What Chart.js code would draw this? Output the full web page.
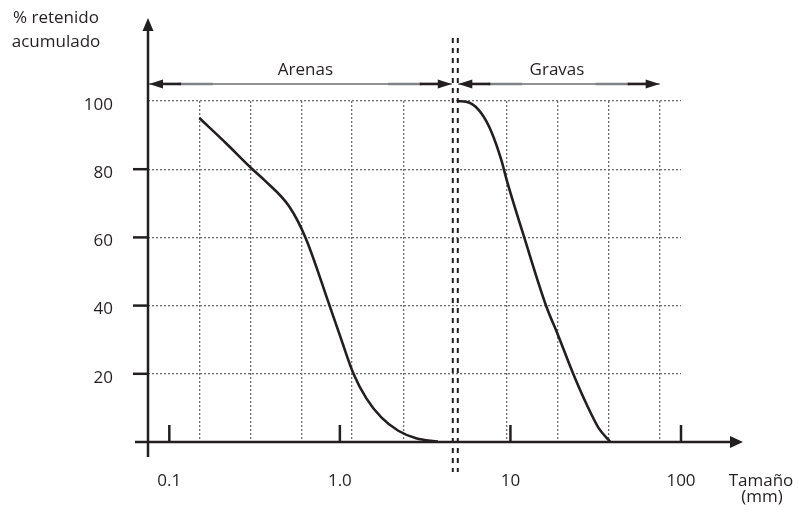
<!DOCTYPE html>
<html><head><meta charset="utf-8">
<script src="https://cdn.jsdelivr.net/npm/chart.js@4/dist/chart.umd.min.js"></script>
<style>html,body{margin:0;padding:0;background:#fff;} #wrap{width:798px;height:510px;}</style>
</head><body><div id="wrap"><canvas id="c" width="798" height="510"></canvas></div>
<script>
// ---- data ----
const gridSizes = [0.15, 0.3, 0.6, 1.18, 2.36, 9.5, 19, 37.5, 75];
const tickValues = [0.1, 1, 10, 100];
const tickLabels = ['0.1', '1.0', '10', '100'];
const yTickValues = [20, 40, 60, 80, 100];
const yTickMarks = [20, 40, 60, 80];
const sandSize = [0.15, 0.215, 0.307, 0.361, 0.506, 0.628, 0.87, 1.02, 1.2, 1.43, 1.75, 2.2, 2.8, 3.75];
const sandRetained = [95, 87.6, 80, 76.8, 69, 60, 40, 30, 20.1, 12.8, 7.2, 3.3, 1.1, 0.1];
const gravelSize = [4.92, 5.76, 6.75, 7.73, 8.84, 9.51, 12.1, 16.2, 19.0, 23.3, 28, 33, 38.6];
const gravelRetained = [100, 99.5, 96.4, 91, 82.7, 76.8, 59.7, 39.9, 31.4, 20.1, 11, 4, 0];
const dividerSize = 4.75;
const rangeNames = ['Arenas', 'Gravas'];
const rangeFrom = [0.075, 4.75];
const rangeTo = [4.75, 75];
const rangeLevel = 105;
const xMin = 0.075, xMax = 100;
const yTitle = ['% retenido', 'acumulado'];
const xTitle = ['Tamaño', '(mm)'];

const ink = '#231f20';
const gridColor = '#6d6e71';
const FONT = 'Open Sans';

function arrowHead(ctx, tx, ty, dir, len, half) {
  ctx.beginPath();
  if (dir === 'left' || dir === 'right') {
    const s = dir === 'right' ? -1 : 1;
    ctx.moveTo(tx, ty); ctx.lineTo(tx + s * len, ty - half); ctx.lineTo(tx + s * len, ty + half);
  } else {
    const s = dir === 'down' ? -1 : 1;
    ctx.moveTo(tx, ty); ctx.lineTo(tx - half, ty + s * len); ctx.lineTo(tx + half, ty + s * len);
  }
  ctx.closePath(); ctx.fill();
}
function seg(ctx, x1, y1, x2, y2) { ctx.beginPath(); ctx.moveTo(x1, y1); ctx.lineTo(x2, y2); ctx.stroke(); }

const deco = {
  id: 'deco',
  afterDatasetsDraw(chart) {
    const {ctx, chartArea: a, scales: {x, y}} = chart;
    const x0 = x.getPixelForValue(xMin), y0 = y.getPixelForValue(0);
    ctx.save();
    ctx.fillStyle = ink; ctx.strokeStyle = ink;
    // divider double dashed line
    const xd = x.getPixelForValue(dividerSize);
    ctx.lineWidth = 2; ctx.setLineDash([5, 5]);
    [-2.5, 2.5].forEach(o => seg(ctx, xd + o, 38, xd + o, 472));
    ctx.setLineDash([]);
    // axes
    ctx.lineWidth = 2.5;
    seg(ctx, x0, y0 + 15, x0, a.top - 72);
    arrowHead(ctx, x0, a.top - 83, 'up', 13, 5.5);
    seg(ctx, x0 - 13, y0, a.right + 52, y0);
    arrowHead(ctx, a.right + 62, y0, 'right', 13, 6);
    // tick marks
    yTickMarks.forEach(v => { const py = y.getPixelForValue(v); seg(ctx, x0 - 15, py, x0, py); });
    tickValues.forEach(v => { const px = x.getPixelForValue(v); seg(ctx, px, y0 - 17, px, y0); });
    // range arrows
    const ya = y.getPixelForValue(rangeLevel);
    ctx.font = `17px "${FONT}"`; ctx.textAlign = 'center'; ctx.textBaseline = 'middle';
    rangeNames.forEach((name, i) => {
      const x1 = x.getPixelForValue(rangeFrom[i]) + (i === 0 ? 1 : 3);
      const x2 = x.getPixelForValue(rangeTo[i]) - (i === 0 ? 3.5 : 0);
      ctx.strokeStyle = '#6d6e71'; ctx.lineWidth = 1.5; seg(ctx, x1, ya, x2, ya);
      ctx.lineWidth = 2.6;
      ctx.strokeStyle = '#808285'; seg(ctx, x1 + 30, ya, x1 + 64, ya); seg(ctx, x2 - 64, ya, x2 - 30, ya);
      ctx.strokeStyle = ink; seg(ctx, x1 + 8, ya, x1 + 32, ya); seg(ctx, x2 - 32, ya, x2 - 8, ya);
      arrowHead(ctx, x1, ya, 'left', 14, 4.5);
      arrowHead(ctx, x2, ya, 'right', 14, 4.5);
      ctx.fillText(name, (x1 + x2) / 2 + (i === 0 ? 5 : -2), ya - 14);
    });
    // titles
    ctx.fillText(yTitle[0], 56, 18);
    ctx.fillText(yTitle[1], 56, 42);
    ctx.fillText(xTitle[0], 761, 481);
    ctx.fillText(xTitle[1], 762, 497);
    ctx.restore();
  }
};

new Chart(document.getElementById('c'), {
  type: 'line',
  data: {
    datasets: [
      {label: rangeNames[0], data: sandSize.map((s, i) => ({x: s, y: sandRetained[i]}))},
      {label: rangeNames[1], data: gravelSize.map((s, i) => ({x: s, y: gravelRetained[i]}))}
    ]
  },
  options: {
    responsive: false, animation: false, devicePixelRatio: 1,
    layout: {padding: {left: 83, top: 101, right: 117, bottom: 20}},
    plugins: {legend: {display: false}, tooltip: {enabled: false}},
    elements: {
      point: {radius: 0},
      line: {borderWidth: 2.6, borderColor: ink, tension: 0.4, cubicInterpolationMode: 'monotone', fill: false}
    },
    datasets: {line: {clip: false}},
    scales: {
      x: {
        type: 'logarithmic', min: xMin, max: xMax, position: 'bottom',
        afterBuildTicks: s => { s.ticks = gridSizes.map(v => ({value: v})); },
        afterFit: s => { s.height = 0; },
        ticks: {display: false},
        grid: {color: gridColor, lineWidth: 1.3, drawTicks: false},
        border: {display: false, dash: [2, 2]}
      },
      xl: {
        axis: 'x', type: 'logarithmic', min: xMin, max: xMax, position: 'bottom',
        afterBuildTicks: s => { s.ticks = tickValues.map(v => ({value: v})); },
        afterFit: s => { s.height = 48; },
        ticks: {autoSkip: false, maxRotation: 0, minRotation: 0, padding: 29, color: ink,
                font: {family: FONT, size: 17}, callback: (v, i) => tickLabels[i]},
        grid: {display: false, drawTicks: false},
        border: {display: false}
      },
      y: {
        min: 0, max: 100,
        afterBuildTicks: s => { s.ticks = yTickValues.map(v => ({value: v})); },
        afterFit: s => { s.width = 65; },
        ticks: {padding: 35, labelOffset: 4, color: ink, font: {family: FONT, size: 17}},
        grid: {color: gridColor, lineWidth: 1.3, drawTicks: false},
        border: {display: false, dash: [2, 2]}
      }
    }
  },
  plugins: [deco]
});
</script>
</body></html>
